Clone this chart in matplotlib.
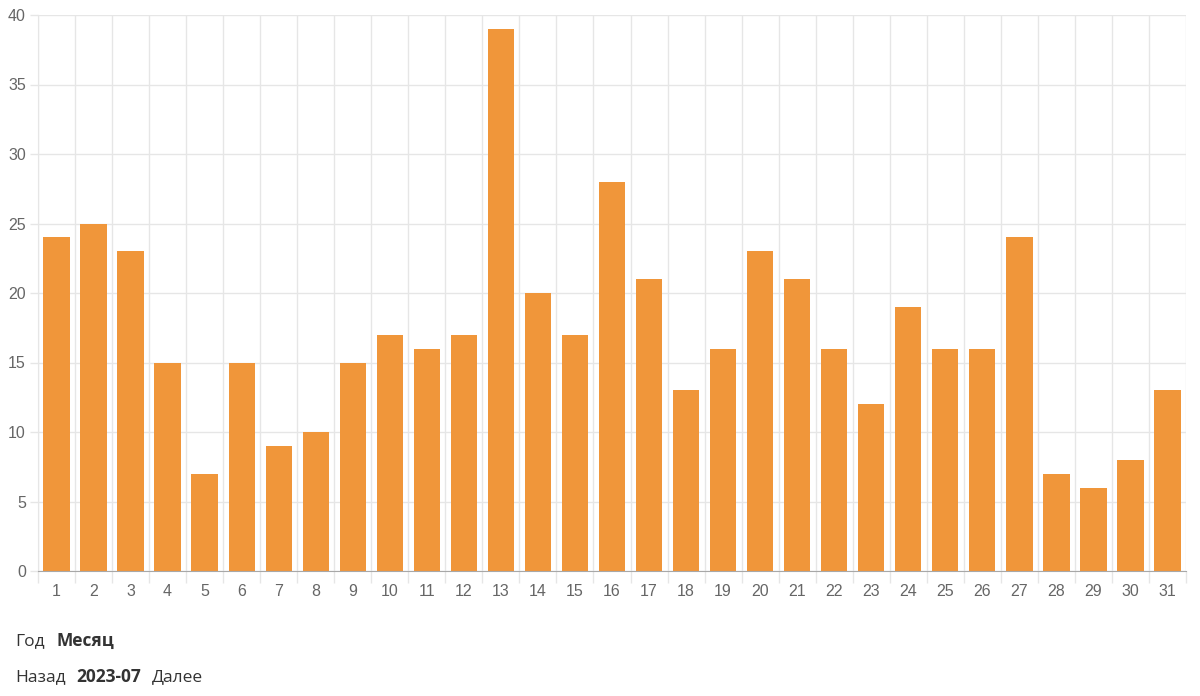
import matplotlib
matplotlib.use("Agg")
import matplotlib.pyplot as plt
import numpy as np

days = list(range(1, 32))
values = [24, 25, 23, 15, 7, 15, 9, 10, 15, 17, 16, 17, 39, 20, 17, 28, 21, 13,
          16, 23, 21, 16, 12, 19, 16, 16, 24, 7, 6, 8, 13]
y_ticks = [0, 5, 10, 15, 20, 25, 30, 35, 40]

plt.rcParams['font.family'] = ['Liberation Sans', 'DejaVu Sans']

fig = plt.figure(figsize=(12, 6.96), dpi=100)
ax = fig.add_axes([38/1200, 1-571/696, 1148/1200, (571-15)/696])

grid_c = '#e6e6e6'
ax.bar(days, values, width=0.71, color='#f0963a', linewidth=0, zorder=3)

ax.set_xlim(0.5, 31.5)
ax.set_ylim(0, 40)
ax.set_yticks(y_ticks)
ax.set_yticklabels([str(v) for v in y_ticks])
ax.set_xticks(days)
ax.set_xticklabels([str(d) for d in days])
ax.set_xticks(np.arange(0.5, 32, 1.0), minor=True)

ax.tick_params(axis='x', which='major', length=0, pad=9, labelsize=11.5, labelcolor='#666666')
ax.tick_params(axis='x', which='minor', length=8.6, width=1, color=grid_c)
ax.tick_params(axis='y', which='major', length=5.8, width=1, color=grid_c, pad=3,
               labelsize=11.5, labelcolor='#666666')

ax.grid(True, axis='y', color=grid_c, linewidth=1, zorder=0)
ax.grid(True, axis='x', which='minor', color=grid_c, linewidth=1, zorder=0)
ax.set_axisbelow(True)

for s in ['top', 'right']:
    ax.spines[s].set_visible(False)
ax.spines['left'].set_color(grid_c)
ax.spines['bottom'].set_color('#a8a8a8')
ax.spines['bottom'].set_zorder(4)

tfam = ['Open Sans', 'DejaVu Sans']
fig.text(15/1200, 1-641/696, 'Год', fontsize=12.5, color='#333333', family=tfam, va='center')
fig.text(56/1200, 1-641/696, 'Месяц', fontsize=12.5, color='#333333', family=tfam, va='center', fontweight='bold')
fig.text(15/1200, 1-677/696, 'Назад', fontsize=12.5, color='#333333', family=tfam, va='center')
fig.text(76/1200, 1-677/696, '2023-07', fontsize=12.5, color='#333333', family=tfam, va='center', fontweight='bold')
fig.text(152/1200, 1-677/696, 'Далее', fontsize=12.5, color='#333333', family=tfam, va='center')

fig.savefig('out.png', dpi=100)
